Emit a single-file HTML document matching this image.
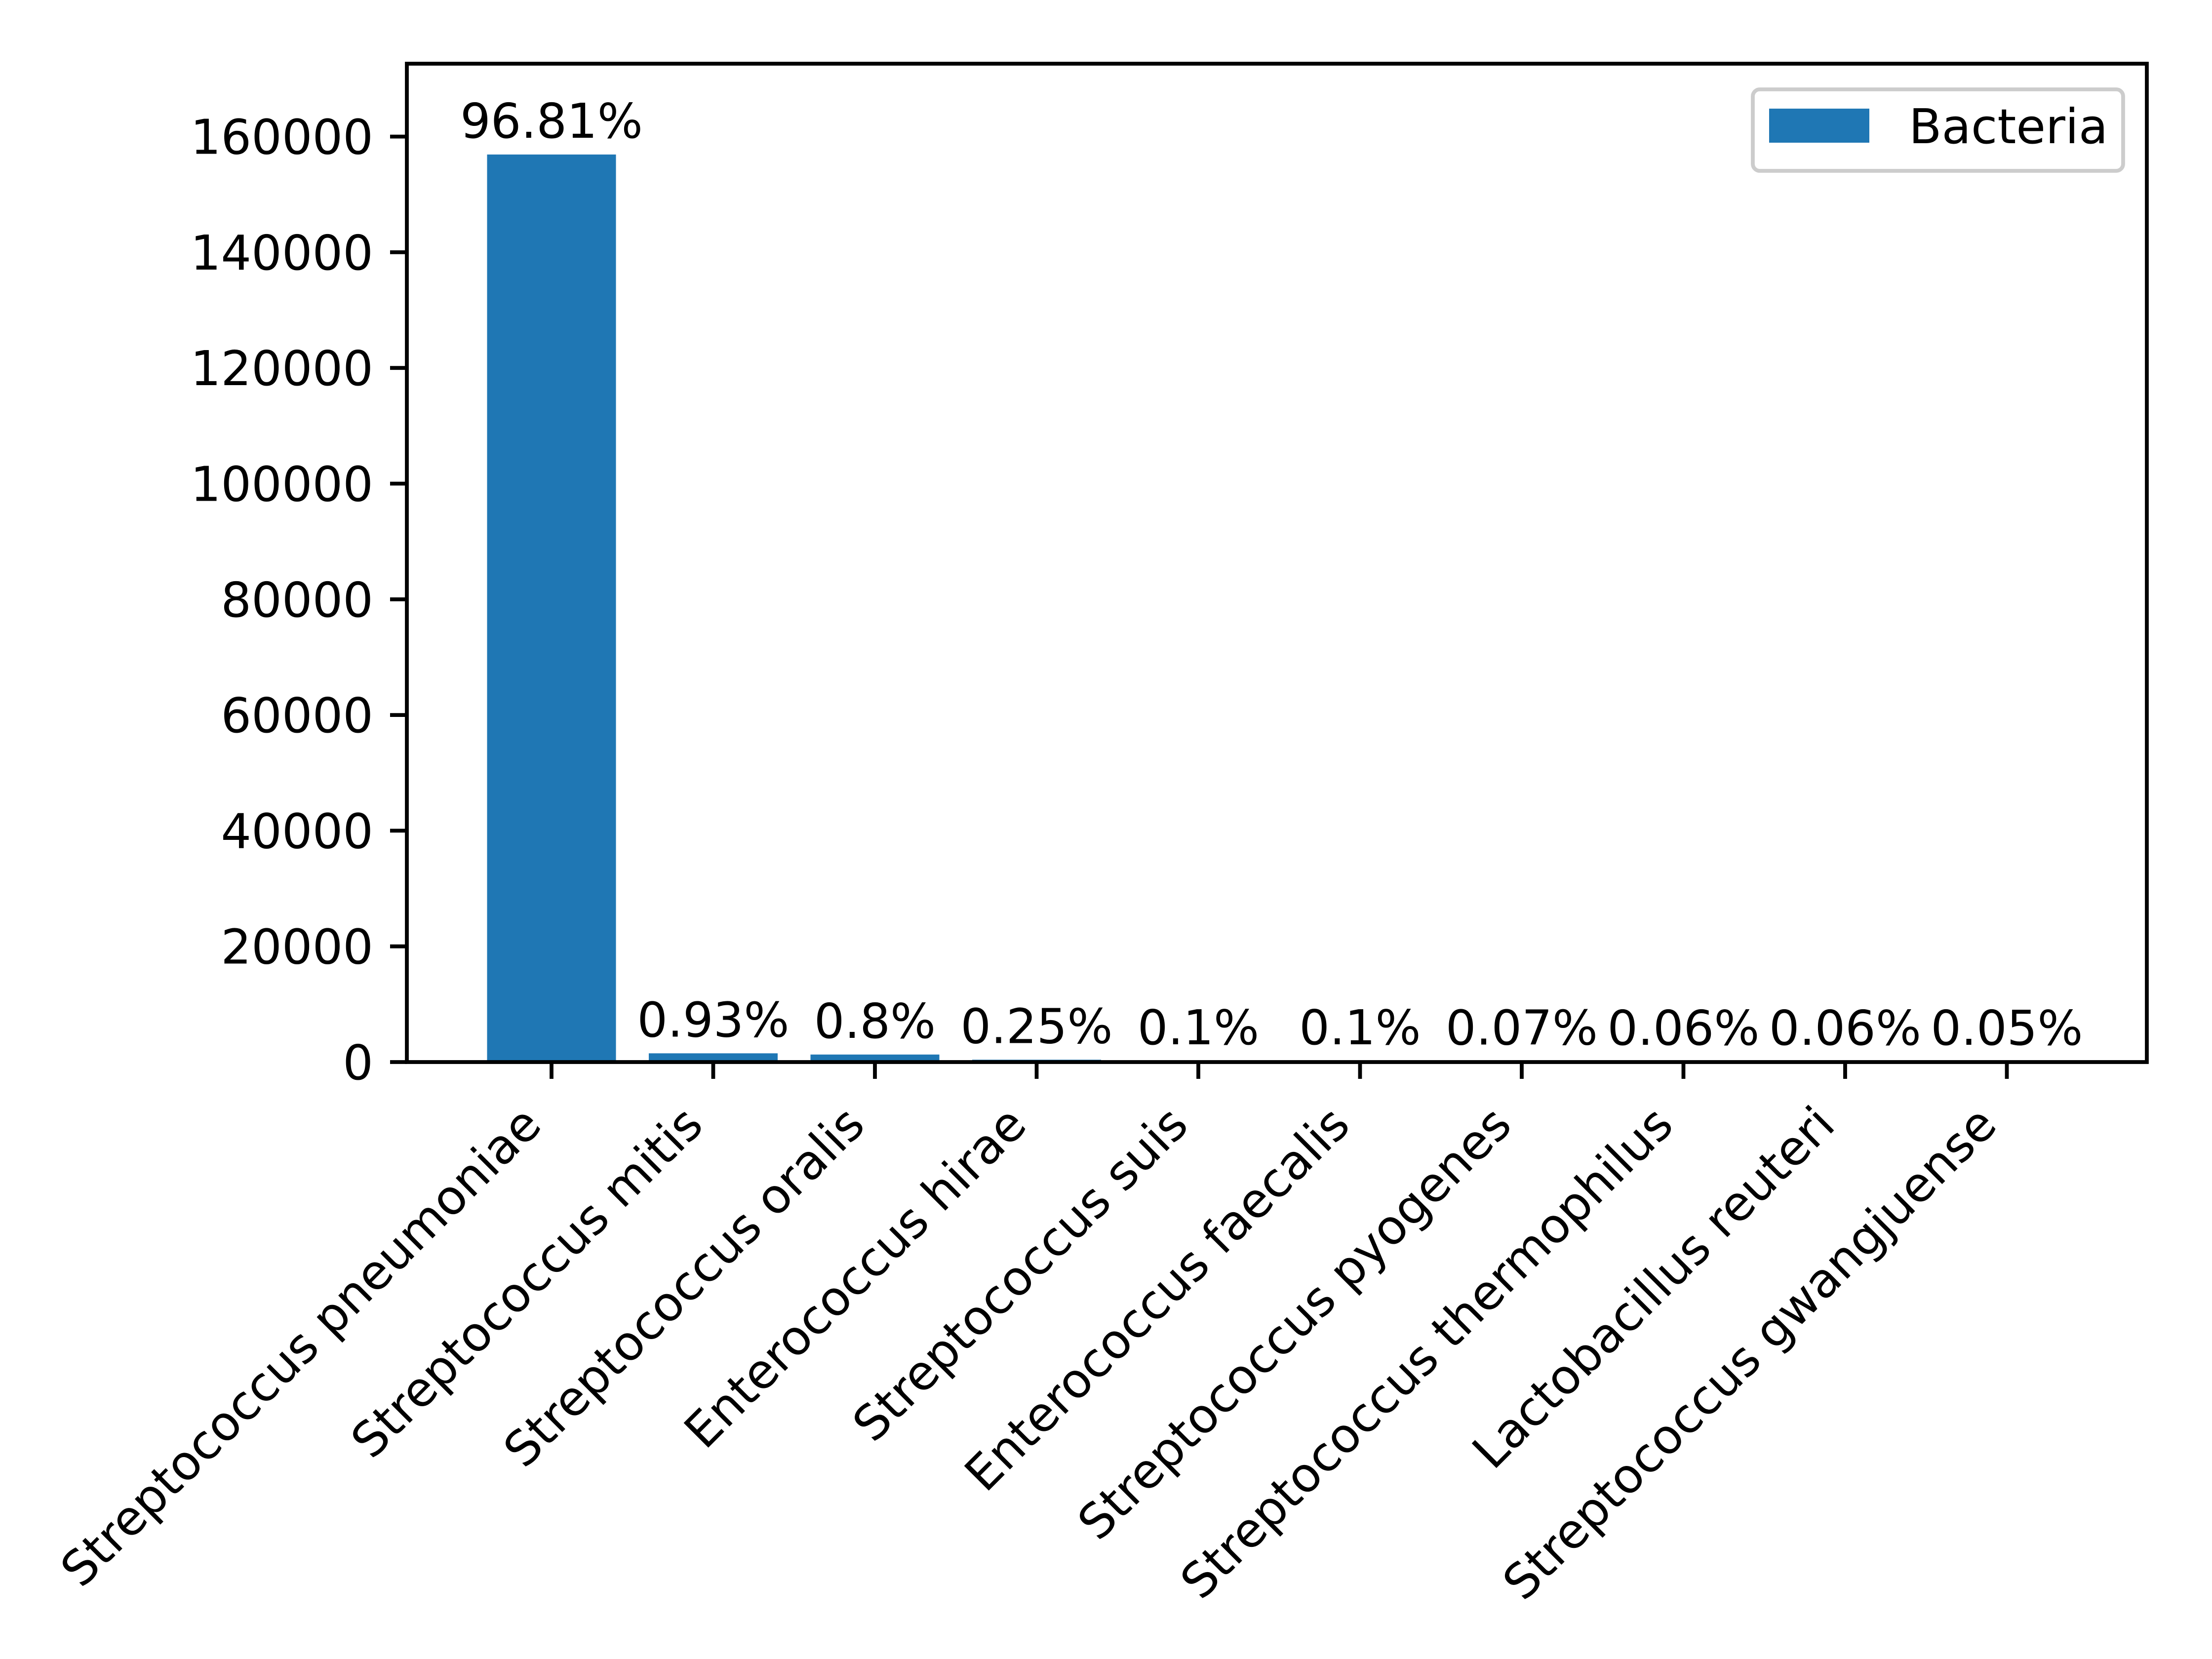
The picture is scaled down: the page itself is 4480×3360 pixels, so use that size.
<!DOCTYPE html>
<html><head><meta charset="utf-8"><style>
html,body{margin:0;padding:0;background:#fff}
svg{display:block}
text{font-family:"DejaVu Sans","Liberation Sans",sans-serif;fill:#000}
</style></head><body>
<svg id="chart" width="4480" height="3360" viewBox="0 0 4480 3360" xmlns="http://www.w3.org/2000/svg">
<rect width="4480" height="3360" fill="#fff"/>
<g id="bars"></g>
<g id="labels"></g>
<g id="yaxis"></g>
<g id="xaxis"></g>
<rect x="824" y="129" width="3524" height="2022" fill="none" stroke="#000" stroke-width="7.8"/>
<g>
<rect x="3550" y="181" width="750" height="165" rx="14" fill="#fff" stroke="#ccc" stroke-width="7.8"/>
<rect x="3583" y="220" width="203" height="69" fill="#1f77b4"/>
<text x="3866" y="290" font-size="97">Bacteria</text>
</g>
</svg>
<script>
const categories=["Streptococcus pneumoniae","Streptococcus mitis","Streptococcus oralis","Enterococcus hirae","Streptococcus suis","Enterococcus faecalis","Streptococcus pyogenes","Streptococcus thermophilus","Lactobacillus reuteri","Streptococcus gwangjuense"];
const values=[156900,1510,1300,405,162,162,114,97,97,81];
const pctLabels=["96.81%","0.93%","0.8%","0.25%","0.1%","0.1%","0.07%","0.06%","0.06%","0.05%"];
const yTicks=[0,20000,40000,60000,80000,100000,120000,140000,160000];

const NS="http://www.w3.org/2000/svg";
const L=824,R=4348,T=129,B=2151,YMAX=172600;
const xc=i=>1117+i*327.5;
const y=v=>B-(v/YMAX)*(B-T);
const bw=261;
function mk(tag,attrs,parent,txt){const e=document.createElementNS(NS,tag);for(const k in attrs)e.setAttribute(k,attrs[k]);if(txt!==undefined)e.textContent=txt;parent.appendChild(e);return e;}
const gB=document.getElementById('bars'),gL=document.getElementById('labels'),gY=document.getElementById('yaxis'),gX=document.getElementById('xaxis');
categories.forEach((c,i)=>{
  const r=mk('rect',{x:xc(i)-bw/2,y:y(values[i]),width:bw,height:B-y(values[i]),fill:'#1f77b4'},gB);
  
  
  const t=mk('text',{x:xc(i),y:y(values[i])-34,'font-size':97,'text-anchor':'middle'},gL,pctLabels[i]);
  
  
  const tk=mk('line',{x1:xc(i),x2:xc(i),y1:B,y2:B+34,stroke:'#000','stroke-width':7.8},gX);
  
  
  const ex=xc(i)-16,ey=B+68+64;
  const xl=mk('text',{x:ex,y:ey,'font-size':97,'text-anchor':'end',transform:`rotate(-45 ${ex} ${ey})`},gX,c);
  
  
});
yTicks.forEach((v,i)=>{
  const tk=mk('line',{x1:L-34,x2:L,y1:y(v),y2:y(v),stroke:'#000','stroke-width':7.8},gY);
  
  
  const t=mk('text',{x:L-68,y:y(v)+35,'font-size':97,'text-anchor':'end'},gY,String(v));
  
  
});
</script>
</body></html>
